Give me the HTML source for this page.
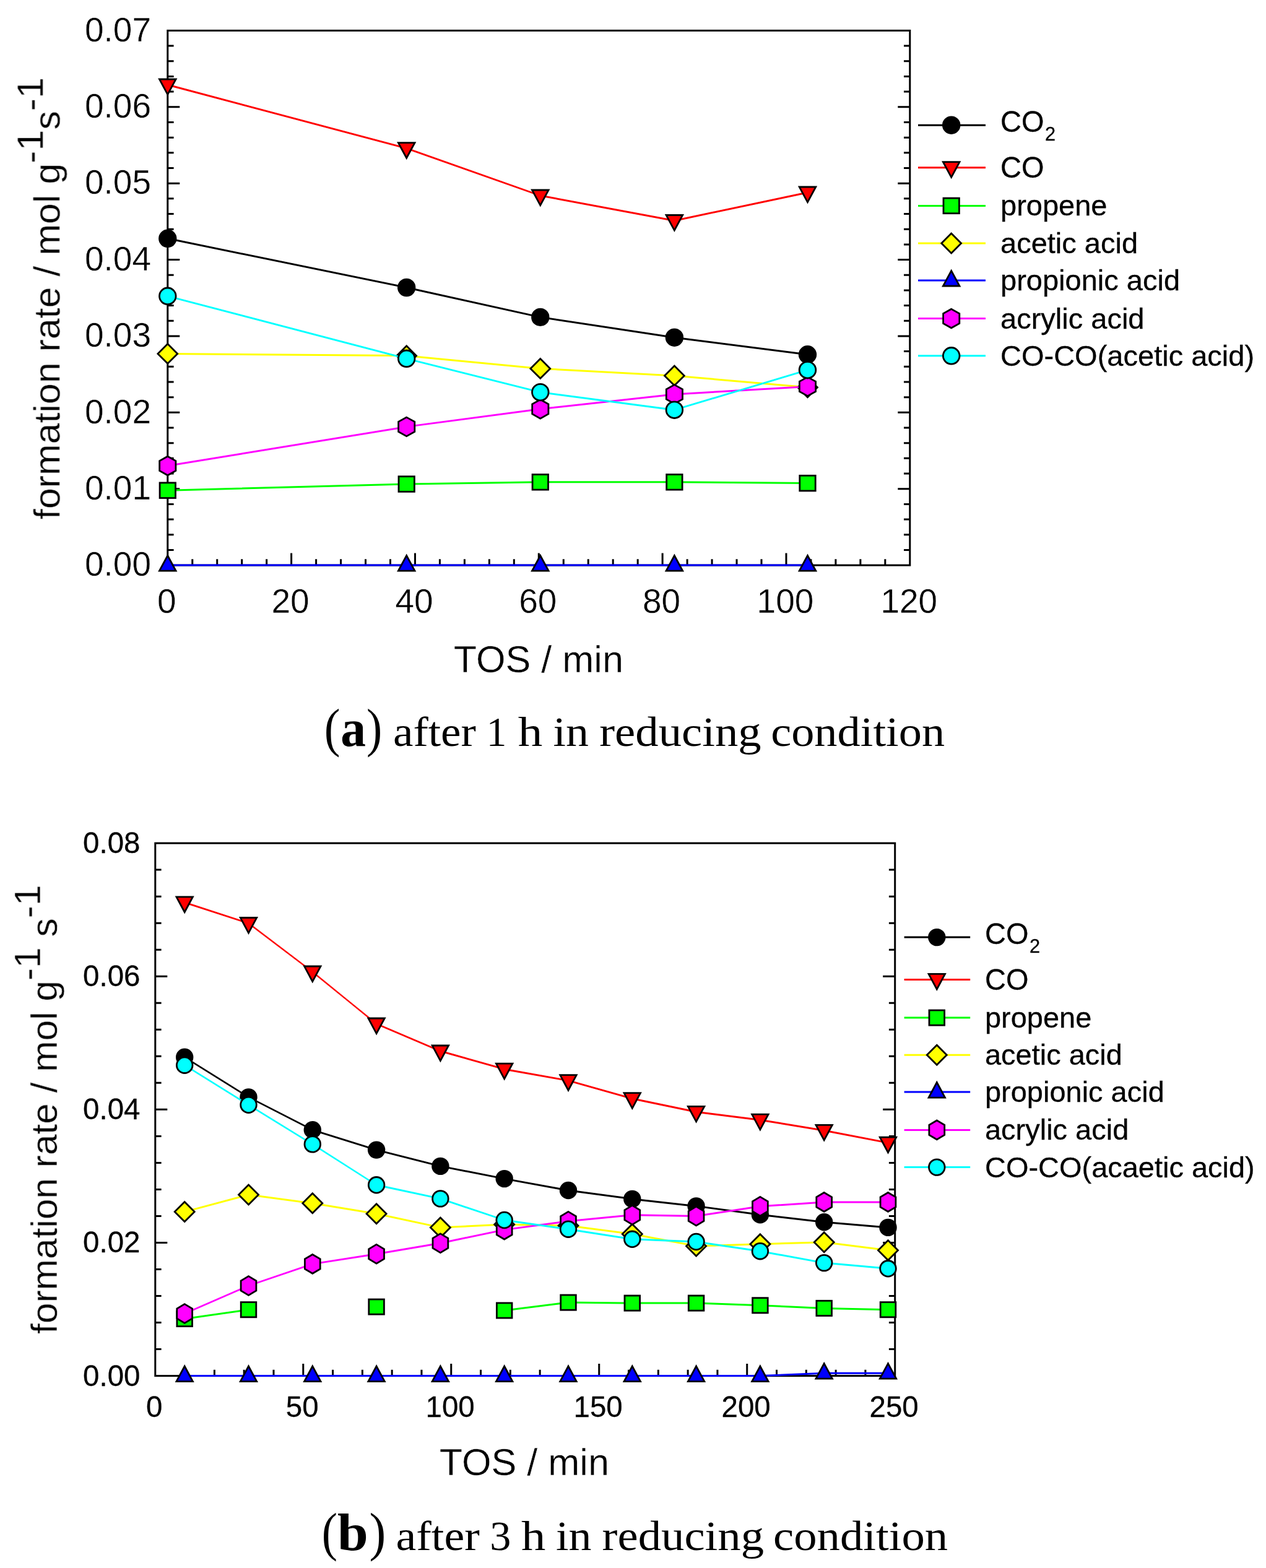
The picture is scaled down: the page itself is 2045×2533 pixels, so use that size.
<!DOCTYPE html>
<html lang="en">
<head>
<meta charset="utf-8">
<title>Formation rate vs TOS</title>
<style>
html,body{margin:0;padding:0;background:#fff;}
body{width:2045px;height:2533px;overflow:hidden;}
svg{display:block;}
text.s{stroke:#fff;stroke-width:0.4px;}
text.b{stroke:#000;stroke-width:0.3px;}
</style>
</head>
<body>
<svg width="2045" height="2533" viewBox="0 0 2045 2533" role="img" aria-label="Formation rate versus time on stream">
<defs><filter id="soft" x="0" y="0" width="2045" height="2533" filterUnits="userSpaceOnUse"><feGaussianBlur stdDeviation="0.5"/></filter></defs>
<rect x="0" y="0" width="2045" height="2533" fill="#ffffff"/>
<g filter="url(#soft)">
<rect x="270.8" y="49.4" width="1199" height="863.7" fill="none" stroke="#000" stroke-width="3"/>
<path d="M270.8 888.42h9.8M1469.8 888.42h-9.8M270.8 863.75h9.8M1469.8 863.75h-9.8M270.8 839.07h9.8M1469.8 839.07h-9.8M270.8 814.39h9.8M1469.8 814.39h-9.8M270.8 789.71h19.5M1469.8 789.71h-19.5M270.8 765.04h9.8M1469.8 765.04h-9.8M270.8 740.36h9.8M1469.8 740.36h-9.8M270.8 715.68h9.8M1469.8 715.68h-9.8M270.8 691.01h9.8M1469.8 691.01h-9.8M270.8 666.33h19.5M1469.8 666.33h-19.5M270.8 641.65h9.8M1469.8 641.65h-9.8M270.8 616.97h9.8M1469.8 616.97h-9.8M270.8 592.3h9.8M1469.8 592.3h-9.8M270.8 567.62h9.8M1469.8 567.62h-9.8M270.8 542.94h19.5M1469.8 542.94h-19.5M270.8 518.27h9.8M1469.8 518.27h-9.8M270.8 493.59h9.8M1469.8 493.59h-9.8M270.8 468.91h9.8M1469.8 468.91h-9.8M270.8 444.23h9.8M1469.8 444.23h-9.8M270.8 419.56h19.5M1469.8 419.56h-19.5M270.8 394.88h9.8M1469.8 394.88h-9.8M270.8 370.2h9.8M1469.8 370.2h-9.8M270.8 345.53h9.8M1469.8 345.53h-9.8M270.8 320.85h9.8M1469.8 320.85h-9.8M270.8 296.17h19.5M1469.8 296.17h-19.5M270.8 271.49h9.8M1469.8 271.49h-9.8M270.8 246.82h9.8M1469.8 246.82h-9.8M270.8 222.14h9.8M1469.8 222.14h-9.8M270.8 197.46h9.8M1469.8 197.46h-9.8M270.8 172.79h19.5M1469.8 172.79h-19.5M270.8 148.11h9.8M1469.8 148.11h-9.8M270.8 123.43h9.8M1469.8 123.43h-9.8M270.8 98.75h9.8M1469.8 98.75h-9.8M270.8 74.08h9.8M1469.8 74.08h-9.8M310.77 913.1v-9.8M350.73 913.1v-9.8M390.7 913.1v-9.8M430.67 913.1v-9.8M470.63 913.1v-19.5M510.6 913.1v-9.8M550.57 913.1v-9.8M590.53 913.1v-9.8M630.5 913.1v-9.8M670.47 913.1v-19.5M710.43 913.1v-9.8M750.4 913.1v-9.8M790.37 913.1v-9.8M830.33 913.1v-9.8M870.3 913.1v-19.5M910.27 913.1v-9.8M950.23 913.1v-9.8M990.2 913.1v-9.8M1030.17 913.1v-9.8M1070.13 913.1v-19.5M1110.1 913.1v-9.8M1150.07 913.1v-9.8M1190.03 913.1v-9.8M1230 913.1v-9.8M1269.97 913.1v-19.5M1309.93 913.1v-9.8M1349.9 913.1v-9.8M1389.87 913.1v-9.8M1429.83 913.1v-9.8" fill="none" stroke="#000" stroke-width="3"/>
<text class="s" x="244" y="930.4" font-family='"Liberation Sans", Arial, Helvetica, sans-serif' font-size="55" text-anchor="end">0.00</text>
<text class="s" x="244" y="807.01" font-family='"Liberation Sans", Arial, Helvetica, sans-serif' font-size="55" text-anchor="end">0.01</text>
<text class="s" x="244" y="683.63" font-family='"Liberation Sans", Arial, Helvetica, sans-serif' font-size="55" text-anchor="end">0.02</text>
<text class="s" x="244" y="560.24" font-family='"Liberation Sans", Arial, Helvetica, sans-serif' font-size="55" text-anchor="end">0.03</text>
<text class="s" x="244" y="436.86" font-family='"Liberation Sans", Arial, Helvetica, sans-serif' font-size="55" text-anchor="end">0.04</text>
<text class="s" x="244" y="313.47" font-family='"Liberation Sans", Arial, Helvetica, sans-serif' font-size="55" text-anchor="end">0.05</text>
<text class="s" x="244" y="190.09" font-family='"Liberation Sans", Arial, Helvetica, sans-serif' font-size="55" text-anchor="end">0.06</text>
<text class="s" x="244" y="66.7" font-family='"Liberation Sans", Arial, Helvetica, sans-serif' font-size="55" text-anchor="end">0.07</text>
<text class="s" x="269.3" y="989.5" font-family='"Liberation Sans", Arial, Helvetica, sans-serif' font-size="55" text-anchor="middle">0</text>
<text class="s" x="469.13" y="989.5" font-family='"Liberation Sans", Arial, Helvetica, sans-serif' font-size="55" text-anchor="middle">20</text>
<text class="s" x="668.97" y="989.5" font-family='"Liberation Sans", Arial, Helvetica, sans-serif' font-size="55" text-anchor="middle">40</text>
<text class="s" x="868.8" y="989.5" font-family='"Liberation Sans", Arial, Helvetica, sans-serif' font-size="55" text-anchor="middle">60</text>
<text class="s" x="1068.63" y="989.5" font-family='"Liberation Sans", Arial, Helvetica, sans-serif' font-size="55" text-anchor="middle">80</text>
<text class="s" x="1268.47" y="989.5" font-family='"Liberation Sans", Arial, Helvetica, sans-serif' font-size="55" text-anchor="middle">100</text>
<text class="s" x="1468.3" y="989.5" font-family='"Liberation Sans", Arial, Helvetica, sans-serif' font-size="55" text-anchor="middle">120</text>
<text class="s" transform="translate(869.8 1086) scale(1.0200 1.0200)" font-family='"Liberation Sans", Arial, Helvetica, sans-serif' font-size="60" text-anchor="middle">TOS / min</text>
<text class="s" transform="translate(96.4 839.1) rotate(-90) scale(1.015 1)" font-family='"Liberation Sans", Arial, Helvetica, sans-serif' font-size="60" text-anchor="start">formation rate / mol g<tspan dy="-27.5">-1</tspan><tspan dy="27.5">s</tspan><tspan dy="-27.5">-1</tspan></text>
<path d="M270.8 385.3L656.7 464.5" fill="none" stroke="#000000" stroke-width="2.94" stroke-linecap="butt"/><path d="M656.7 464.5L872.8 512.4" fill="none" stroke="#000000" stroke-width="2.93" stroke-linecap="butt"/><path d="M872.8 512.4L1089.4 545.2" fill="none" stroke="#000000" stroke-width="2.97" stroke-linecap="butt"/><path d="M1089.4 545.2L1304.5 572.8" fill="none" stroke="#000000" stroke-width="2.98" stroke-linecap="butt"/>
<circle cx="270.8" cy="385.3" r="13.3" fill="#000000" stroke="#000" stroke-width="2.8" stroke-linejoin="miter"/>
<circle cx="656.7" cy="464.5" r="13.3" fill="#000000" stroke="#000" stroke-width="2.8" stroke-linejoin="miter"/>
<circle cx="872.8" cy="512.4" r="13.3" fill="#000000" stroke="#000" stroke-width="2.8" stroke-linejoin="miter"/>
<circle cx="1089.4" cy="545.2" r="13.3" fill="#000000" stroke="#000" stroke-width="2.8" stroke-linejoin="miter"/>
<circle cx="1304.5" cy="572.8" r="13.3" fill="#000000" stroke="#000" stroke-width="2.8" stroke-linejoin="miter"/>
<path d="M270.8 137L656.7 239.6" fill="none" stroke="#ff0000" stroke-width="2.9" stroke-linecap="butt"/><path d="M656.7 239.6L872.8 316" fill="none" stroke="#ff0000" stroke-width="2.83" stroke-linecap="butt"/><path d="M872.8 316L1089.4 356.5" fill="none" stroke="#ff0000" stroke-width="2.95" stroke-linecap="butt"/><path d="M1089.4 356.5L1304.5 311" fill="none" stroke="#ff0000" stroke-width="2.94" stroke-linecap="butt"/>
<polygon points="257.5,128 284.1,128 270.8,152.6" fill="#ff0000" stroke="#000" stroke-width="2.8" stroke-linejoin="miter"/>
<polygon points="643.4,230.6 670,230.6 656.7,255.2" fill="#ff0000" stroke="#000" stroke-width="2.8" stroke-linejoin="miter"/>
<polygon points="859.5,307 886.1,307 872.8,331.6" fill="#ff0000" stroke="#000" stroke-width="2.8" stroke-linejoin="miter"/>
<polygon points="1076.1,347.5 1102.7,347.5 1089.4,372.1" fill="#ff0000" stroke="#000" stroke-width="2.8" stroke-linejoin="miter"/>
<polygon points="1291.2,302 1317.8,302 1304.5,326.6" fill="#ff0000" stroke="#000" stroke-width="2.8" stroke-linejoin="miter"/>
<path d="M270.8 792.2L656.7 782M656.7 782L872.8 778.8M872.8 778.8L1089.4 778.8M1089.4 778.8L1304.5 780.6" fill="none" stroke="#00ff00" stroke-width="3" stroke-linecap="butt"/>
<rect x="258.1" y="779.9" width="25.4" height="24.6" fill="#00ff00" stroke="#000" stroke-width="2.8" stroke-linejoin="miter"/>
<rect x="644" y="769.7" width="25.4" height="24.6" fill="#00ff00" stroke="#000" stroke-width="2.8" stroke-linejoin="miter"/>
<rect x="860.1" y="766.5" width="25.4" height="24.6" fill="#00ff00" stroke="#000" stroke-width="2.8" stroke-linejoin="miter"/>
<rect x="1076.7" y="766.5" width="25.4" height="24.6" fill="#00ff00" stroke="#000" stroke-width="2.8" stroke-linejoin="miter"/>
<rect x="1291.8" y="768.3" width="25.4" height="24.6" fill="#00ff00" stroke="#000" stroke-width="2.8" stroke-linejoin="miter"/>
<path d="M270.8 571.4L656.7 574.7M872.8 595.4L1089.4 606.9" fill="none" stroke="#ffff00" stroke-width="3" stroke-linecap="butt"/><path d="M656.7 574.7L872.8 595.4M1089.4 606.9L1304.5 625.8" fill="none" stroke="#ffff00" stroke-width="2.99" stroke-linecap="butt"/>
<polygon points="270.8,555.5 286.7,571.4 270.8,587.3 254.9,571.4" fill="#ffff00" stroke="#000" stroke-width="2.8" stroke-linejoin="miter"/>
<polygon points="656.7,558.8 672.6,574.7 656.7,590.6 640.8,574.7" fill="#ffff00" stroke="#000" stroke-width="2.8" stroke-linejoin="miter"/>
<polygon points="872.8,579.5 888.7,595.4 872.8,611.3 856.9,595.4" fill="#ffff00" stroke="#000" stroke-width="2.8" stroke-linejoin="miter"/>
<polygon points="1089.4,591 1105.3,606.9 1089.4,622.8 1073.5,606.9" fill="#ffff00" stroke="#000" stroke-width="2.8" stroke-linejoin="miter"/>
<polygon points="1304.5,609.9 1320.4,625.8 1304.5,641.7 1288.6,625.8" fill="#ffff00" stroke="#000" stroke-width="2.8" stroke-linejoin="miter"/>
<path d="M270.8 913.1L656.7 913.1M656.7 913.1L872.8 913.1M872.8 913.1L1089.4 913.1M1089.4 913.1L1304.5 913.1" fill="none" stroke="#0000ff" stroke-width="3" stroke-linecap="butt"/>
<polygon points="257.5,922.1 284.1,922.1 270.8,897.5" fill="#0000ff" stroke="#000" stroke-width="2.8" stroke-linejoin="miter"/>
<polygon points="643.4,922.1 670,922.1 656.7,897.5" fill="#0000ff" stroke="#000" stroke-width="2.8" stroke-linejoin="miter"/>
<polygon points="859.5,922.1 886.1,922.1 872.8,897.5" fill="#0000ff" stroke="#000" stroke-width="2.8" stroke-linejoin="miter"/>
<polygon points="1076.1,922.1 1102.7,922.1 1089.4,897.5" fill="#0000ff" stroke="#000" stroke-width="2.8" stroke-linejoin="miter"/>
<polygon points="1291.2,922.1 1317.8,922.1 1304.5,897.5" fill="#0000ff" stroke="#000" stroke-width="2.8" stroke-linejoin="miter"/>
<path d="M270.8 752.5L656.7 689.4" fill="none" stroke="#ff00ff" stroke-width="2.96" stroke-linecap="butt"/><path d="M656.7 689.4L872.8 660.8" fill="none" stroke="#ff00ff" stroke-width="2.97" stroke-linecap="butt"/><path d="M872.8 660.8L1089.4 636.9" fill="none" stroke="#ff00ff" stroke-width="2.98" stroke-linecap="butt"/><path d="M1089.4 636.9L1304.5 624.4" fill="none" stroke="#ff00ff" stroke-width="2.99" stroke-linecap="butt"/>
<polygon points="270.8,737.2 283.9,744.5 283.9,760.5 270.8,767.8 257.7,760.5 257.7,744.5" fill="#ff00ff" stroke="#000" stroke-width="2.8" stroke-linejoin="miter"/>
<polygon points="656.7,674.1 669.8,681.4 669.8,697.4 656.7,704.7 643.6,697.4 643.6,681.4" fill="#ff00ff" stroke="#000" stroke-width="2.8" stroke-linejoin="miter"/>
<polygon points="872.8,645.5 885.9,652.8 885.9,668.8 872.8,676.1 859.7,668.8 859.7,652.8" fill="#ff00ff" stroke="#000" stroke-width="2.8" stroke-linejoin="miter"/>
<polygon points="1089.4,621.6 1102.5,628.9 1102.5,644.9 1089.4,652.2 1076.3,644.9 1076.3,628.9" fill="#ff00ff" stroke="#000" stroke-width="2.8" stroke-linejoin="miter"/>
<polygon points="1304.5,609.1 1317.6,616.4 1317.6,632.4 1304.5,639.7 1291.4,632.4 1291.4,616.4" fill="#ff00ff" stroke="#000" stroke-width="2.8" stroke-linejoin="miter"/>
<path d="M270.8 478.3L656.7 579.3" fill="none" stroke="#00ffff" stroke-width="2.9" stroke-linecap="butt"/><path d="M656.7 579.3L872.8 633.6" fill="none" stroke="#00ffff" stroke-width="2.91" stroke-linecap="butt"/><path d="M872.8 633.6L1089.4 662.2" fill="none" stroke="#00ffff" stroke-width="2.97" stroke-linecap="butt"/><path d="M1089.4 662.2L1304.5 597.7" fill="none" stroke="#00ffff" stroke-width="2.87" stroke-linecap="butt"/>
<circle cx="270.8" cy="478.3" r="13.3" fill="#00ffff" stroke="#000" stroke-width="2.8" stroke-linejoin="miter"/>
<circle cx="656.7" cy="579.3" r="13.3" fill="#00ffff" stroke="#000" stroke-width="2.8" stroke-linejoin="miter"/>
<circle cx="872.8" cy="633.6" r="13.3" fill="#00ffff" stroke="#000" stroke-width="2.8" stroke-linejoin="miter"/>
<circle cx="1089.4" cy="662.2" r="13.3" fill="#00ffff" stroke="#000" stroke-width="2.8" stroke-linejoin="miter"/>
<circle cx="1304.5" cy="597.7" r="13.3" fill="#00ffff" stroke="#000" stroke-width="2.8" stroke-linejoin="miter"/>
<line x1="1483" y1="202.2" x2="1592" y2="202.2" stroke="#000000" stroke-width="3"/>
<circle cx="1536.7" cy="202.2" r="13.3" fill="#000000" stroke="#000" stroke-width="2.8" stroke-linejoin="miter"/>
<text class="b" transform="translate(1616 212.8) scale(0.9900 1.0100)" font-family='"Liberation Sans", Arial, Helvetica, sans-serif' font-size="47.5" text-anchor="start">CO<tspan dx="1.5" dy="14" font-size="31">2</tspan></text>
<line x1="1483" y1="270.7" x2="1592" y2="270.7" stroke="#ff0000" stroke-width="3"/>
<polygon points="1523.4,261.7 1550,261.7 1536.7,286.3" fill="#ff0000" stroke="#000" stroke-width="2.8" stroke-linejoin="miter"/>
<text class="b" transform="translate(1616 286.6) scale(0.9900 1.0100)" font-family='"Liberation Sans", Arial, Helvetica, sans-serif' font-size="47.5" text-anchor="start">CO</text>
<line x1="1483" y1="332.4" x2="1592" y2="332.4" stroke="#00ff00" stroke-width="3"/>
<rect x="1524" y="320.1" width="25.4" height="24.6" fill="#00ff00" stroke="#000" stroke-width="2.8" stroke-linejoin="miter"/>
<text class="b" transform="translate(1616 348.4) scale(0.9900 0.9600)" font-family='"Liberation Sans", Arial, Helvetica, sans-serif' font-size="47.5" text-anchor="start">propene</text>
<line x1="1483" y1="393" x2="1592" y2="393" stroke="#ffff00" stroke-width="3"/>
<polygon points="1536.7,377.1 1552.6,393 1536.7,408.9 1520.8,393" fill="#ffff00" stroke="#000" stroke-width="2.8" stroke-linejoin="miter"/>
<text class="b" transform="translate(1616 409) scale(0.9900 0.9600)" font-family='"Liberation Sans", Arial, Helvetica, sans-serif' font-size="47.5" text-anchor="start">acetic acid</text>
<line x1="1483" y1="453" x2="1592" y2="453" stroke="#0000ff" stroke-width="3"/>
<polygon points="1523.4,462 1550,462 1536.7,437.4" fill="#0000ff" stroke="#000" stroke-width="2.8" stroke-linejoin="miter"/>
<text class="b" transform="translate(1616 469) scale(0.9900 0.9600)" font-family='"Liberation Sans", Arial, Helvetica, sans-serif' font-size="47.5" text-anchor="start">propionic acid</text>
<line x1="1483" y1="514.5" x2="1592" y2="514.5" stroke="#ff00ff" stroke-width="3"/>
<polygon points="1536.7,499.2 1549.8,506.5 1549.8,522.5 1536.7,529.8 1523.6,522.5 1523.6,506.5" fill="#ff00ff" stroke="#000" stroke-width="2.8" stroke-linejoin="miter"/>
<text class="b" transform="translate(1616 530.5) scale(0.9900 0.9600)" font-family='"Liberation Sans", Arial, Helvetica, sans-serif' font-size="47.5" text-anchor="start">acrylic acid</text>
<line x1="1483" y1="574.8" x2="1592" y2="574.8" stroke="#00ffff" stroke-width="3"/>
<circle cx="1536.7" cy="574.8" r="13.3" fill="#00ffff" stroke="#000" stroke-width="2.8" stroke-linejoin="miter"/>
<text class="b" transform="translate(1616 590.8) scale(0.9900 0.9850)" font-family='"Liberation Sans", Arial, Helvetica, sans-serif' font-size="47.5" text-anchor="start">CO-CO(acetic acid)</text>
<rect x="250.8" y="1362.1" width="1194.9" height="860.5" fill="none" stroke="#000" stroke-width="3"/>
<path d="M250.8 2179.57h9.8M1445.7 2179.57h-9.8M250.8 2136.55h9.8M1445.7 2136.55h-9.8M250.8 2093.53h9.8M1445.7 2093.53h-9.8M250.8 2050.5h9.8M1445.7 2050.5h-9.8M250.8 2007.47h19.5M1445.7 2007.47h-19.5M250.8 1964.45h9.8M1445.7 1964.45h-9.8M250.8 1921.42h9.8M1445.7 1921.42h-9.8M250.8 1878.4h9.8M1445.7 1878.4h-9.8M250.8 1835.38h9.8M1445.7 1835.38h-9.8M250.8 1792.35h19.5M1445.7 1792.35h-19.5M250.8 1749.32h9.8M1445.7 1749.32h-9.8M250.8 1706.3h9.8M1445.7 1706.3h-9.8M250.8 1663.27h9.8M1445.7 1663.27h-9.8M250.8 1620.25h9.8M1445.7 1620.25h-9.8M250.8 1577.22h19.5M1445.7 1577.22h-19.5M250.8 1534.2h9.8M1445.7 1534.2h-9.8M250.8 1491.17h9.8M1445.7 1491.17h-9.8M250.8 1448.15h9.8M1445.7 1448.15h-9.8M250.8 1405.12h9.8M1445.7 1405.12h-9.8M298.6 2222.6v-9.8M346.39 2222.6v-9.8M394.19 2222.6v-9.8M441.98 2222.6v-9.8M489.78 2222.6v-19.5M537.58 2222.6v-9.8M585.37 2222.6v-9.8M633.17 2222.6v-9.8M680.96 2222.6v-9.8M728.76 2222.6v-19.5M776.56 2222.6v-9.8M824.35 2222.6v-9.8M872.15 2222.6v-9.8M919.94 2222.6v-9.8M967.74 2222.6v-19.5M1015.54 2222.6v-9.8M1063.33 2222.6v-9.8M1111.13 2222.6v-9.8M1158.92 2222.6v-9.8M1206.72 2222.6v-19.5M1254.52 2222.6v-9.8M1302.31 2222.6v-9.8M1350.11 2222.6v-9.8M1397.9 2222.6v-9.8" fill="none" stroke="#000" stroke-width="3"/>
<text class="b" transform="translate(226.5 2238.6) scale(1.0000 1.0050)" font-family='"Liberation Sans", Arial, Helvetica, sans-serif' font-size="47.5" text-anchor="end">0.00</text>
<text class="b" transform="translate(226.5 2023.47) scale(1.0000 1.0050)" font-family='"Liberation Sans", Arial, Helvetica, sans-serif' font-size="47.5" text-anchor="end">0.02</text>
<text class="b" transform="translate(226.5 1808.35) scale(1.0000 1.0050)" font-family='"Liberation Sans", Arial, Helvetica, sans-serif' font-size="47.5" text-anchor="end">0.04</text>
<text class="b" transform="translate(226.5 1593.22) scale(1.0000 1.0050)" font-family='"Liberation Sans", Arial, Helvetica, sans-serif' font-size="47.5" text-anchor="end">0.06</text>
<text class="b" transform="translate(226.5 1378.1) scale(1.0000 1.0050)" font-family='"Liberation Sans", Arial, Helvetica, sans-serif' font-size="47.5" text-anchor="end">0.08</text>
<text class="b" transform="translate(249.2 2288.5) scale(1.0000 1.0050)" font-family='"Liberation Sans", Arial, Helvetica, sans-serif' font-size="47.5" text-anchor="middle">0</text>
<text class="b" transform="translate(488.18 2288.5) scale(1.0000 1.0050)" font-family='"Liberation Sans", Arial, Helvetica, sans-serif' font-size="47.5" text-anchor="middle">50</text>
<text class="b" transform="translate(727.16 2288.5) scale(1.0000 1.0050)" font-family='"Liberation Sans", Arial, Helvetica, sans-serif' font-size="47.5" text-anchor="middle">100</text>
<text class="b" transform="translate(966.14 2288.5) scale(1.0000 1.0050)" font-family='"Liberation Sans", Arial, Helvetica, sans-serif' font-size="47.5" text-anchor="middle">150</text>
<text class="b" transform="translate(1205.12 2288.5) scale(1.0000 1.0050)" font-family='"Liberation Sans", Arial, Helvetica, sans-serif' font-size="47.5" text-anchor="middle">200</text>
<text class="b" transform="translate(1444.1 2288.5) scale(1.0000 1.0050)" font-family='"Liberation Sans", Arial, Helvetica, sans-serif' font-size="47.5" text-anchor="middle">250</text>
<text class="s" transform="translate(846.8 2383.5) scale(1.0200 1.0200)" font-family='"Liberation Sans", Arial, Helvetica, sans-serif' font-size="60" text-anchor="middle">TOS / min</text>
<text class="s" transform="translate(91.9 2154.8) rotate(-90) scale(1.007 1)" font-family='"Liberation Sans", Arial, Helvetica, sans-serif' font-size="60" text-anchor="start">formation rate / mol g<tspan dy="-27.5">-1</tspan><tspan dy="27.5"> s</tspan><tspan dy="-27.5">-1</tspan></text>
<path d="M298.2 1707.8L401.5 1772.4" fill="none" stroke="#000000" stroke-width="2.54" stroke-linecap="butt"/><path d="M401.5 1772.4L504.8 1825.3" fill="none" stroke="#000000" stroke-width="2.67" stroke-linecap="butt"/><path d="M504.8 1825.3L608.1 1857.6" fill="none" stroke="#000000" stroke-width="2.86" stroke-linecap="butt"/><path d="M608.1 1857.6L711.4 1883.9" fill="none" stroke="#000000" stroke-width="2.91" stroke-linecap="butt"/><path d="M711.4 1883.9L814.7 1904.1" fill="none" stroke="#000000" stroke-width="2.94" stroke-linecap="butt"/><path d="M814.7 1904.1L918 1923" fill="none" stroke="#000000" stroke-width="2.95" stroke-linecap="butt"/><path d="M918 1923L1021.3 1936.9M1124.6 1948.4L1227.9 1962.2" fill="none" stroke="#000000" stroke-width="2.97" stroke-linecap="butt"/><path d="M1021.3 1936.9L1124.6 1948.4M1227.9 1962.2L1331.2 1974.2" fill="none" stroke="#000000" stroke-width="2.98" stroke-linecap="butt"/><path d="M1331.2 1974.2L1434.5 1982.9" fill="none" stroke="#000000" stroke-width="2.99" stroke-linecap="butt"/>
<circle cx="298.2" cy="1707.8" r="12.8" fill="#000000" stroke="#000" stroke-width="2.8" stroke-linejoin="miter"/>
<circle cx="401.5" cy="1772.4" r="12.8" fill="#000000" stroke="#000" stroke-width="2.8" stroke-linejoin="miter"/>
<circle cx="504.8" cy="1825.3" r="12.8" fill="#000000" stroke="#000" stroke-width="2.8" stroke-linejoin="miter"/>
<circle cx="608.1" cy="1857.6" r="12.8" fill="#000000" stroke="#000" stroke-width="2.8" stroke-linejoin="miter"/>
<circle cx="711.4" cy="1883.9" r="12.8" fill="#000000" stroke="#000" stroke-width="2.8" stroke-linejoin="miter"/>
<circle cx="814.7" cy="1904.1" r="12.8" fill="#000000" stroke="#000" stroke-width="2.8" stroke-linejoin="miter"/>
<circle cx="918" cy="1923" r="12.8" fill="#000000" stroke="#000" stroke-width="2.8" stroke-linejoin="miter"/>
<circle cx="1021.3" cy="1936.9" r="12.8" fill="#000000" stroke="#000" stroke-width="2.8" stroke-linejoin="miter"/>
<circle cx="1124.6" cy="1948.4" r="12.8" fill="#000000" stroke="#000" stroke-width="2.8" stroke-linejoin="miter"/>
<circle cx="1227.9" cy="1962.2" r="12.8" fill="#000000" stroke="#000" stroke-width="2.8" stroke-linejoin="miter"/>
<circle cx="1331.2" cy="1974.2" r="12.8" fill="#000000" stroke="#000" stroke-width="2.8" stroke-linejoin="miter"/>
<circle cx="1434.5" cy="1982.9" r="12.8" fill="#000000" stroke="#000" stroke-width="2.8" stroke-linejoin="miter"/>
<path d="M298.2 1457.9L401.5 1491.5" fill="none" stroke="#ff0000" stroke-width="2.85" stroke-linecap="butt"/><path d="M401.5 1491.5L504.8 1570" fill="none" stroke="#ff0000" stroke-width="2.39" stroke-linecap="butt"/><path d="M504.8 1570L608.1 1654" fill="none" stroke="#ff0000" stroke-width="2.33" stroke-linecap="butt"/><path d="M608.1 1654L711.4 1698" fill="none" stroke="#ff0000" stroke-width="2.76" stroke-linecap="butt"/><path d="M711.4 1698L814.7 1727.2M918 1745.6L1021.3 1774.7" fill="none" stroke="#ff0000" stroke-width="2.89" stroke-linecap="butt"/><path d="M814.7 1727.2L918 1745.6M1331.2 1826.3L1434.5 1846.1" fill="none" stroke="#ff0000" stroke-width="2.95" stroke-linecap="butt"/><path d="M1021.3 1774.7L1124.6 1796.3" fill="none" stroke="#ff0000" stroke-width="2.94" stroke-linecap="butt"/><path d="M1124.6 1796.3L1227.9 1809.2" fill="none" stroke="#ff0000" stroke-width="2.98" stroke-linecap="butt"/><path d="M1227.9 1809.2L1331.2 1826.3" fill="none" stroke="#ff0000" stroke-width="2.96" stroke-linecap="butt"/>
<polygon points="285,1448.9 311.4,1448.9 298.2,1473.5" fill="#ff0000" stroke="#000" stroke-width="2.8" stroke-linejoin="miter"/>
<polygon points="388.3,1482.5 414.7,1482.5 401.5,1507.1" fill="#ff0000" stroke="#000" stroke-width="2.8" stroke-linejoin="miter"/>
<polygon points="491.6,1561 518,1561 504.8,1585.6" fill="#ff0000" stroke="#000" stroke-width="2.8" stroke-linejoin="miter"/>
<polygon points="594.9,1645 621.3,1645 608.1,1669.6" fill="#ff0000" stroke="#000" stroke-width="2.8" stroke-linejoin="miter"/>
<polygon points="698.2,1689 724.6,1689 711.4,1713.6" fill="#ff0000" stroke="#000" stroke-width="2.8" stroke-linejoin="miter"/>
<polygon points="801.5,1718.2 827.9,1718.2 814.7,1742.8" fill="#ff0000" stroke="#000" stroke-width="2.8" stroke-linejoin="miter"/>
<polygon points="904.8,1736.6 931.2,1736.6 918,1761.2" fill="#ff0000" stroke="#000" stroke-width="2.8" stroke-linejoin="miter"/>
<polygon points="1008.1,1765.7 1034.5,1765.7 1021.3,1790.3" fill="#ff0000" stroke="#000" stroke-width="2.8" stroke-linejoin="miter"/>
<polygon points="1111.4,1787.3 1137.8,1787.3 1124.6,1811.9" fill="#ff0000" stroke="#000" stroke-width="2.8" stroke-linejoin="miter"/>
<polygon points="1214.7,1800.2 1241.1,1800.2 1227.9,1824.8" fill="#ff0000" stroke="#000" stroke-width="2.8" stroke-linejoin="miter"/>
<polygon points="1318,1817.3 1344.4,1817.3 1331.2,1841.9" fill="#ff0000" stroke="#000" stroke-width="2.8" stroke-linejoin="miter"/>
<polygon points="1421.3,1837.1 1447.7,1837.1 1434.5,1861.7" fill="#ff0000" stroke="#000" stroke-width="2.8" stroke-linejoin="miter"/>
<path d="M298.2 2130.5L401.5 2115.7" fill="none" stroke="#00ff00" stroke-width="2.97" stroke-linecap="butt"/>
<path d="M814.7 2117L918 2104.1" fill="none" stroke="#00ff00" stroke-width="2.98" stroke-linecap="butt"/><path d="M918 2104.1L1021.3 2105.1M1021.3 2105.1L1124.6 2105.1M1124.6 2105.1L1227.9 2108.8M1227.9 2108.8L1331.2 2113.4M1331.2 2113.4L1434.5 2115.7" fill="none" stroke="#00ff00" stroke-width="3" stroke-linecap="butt"/>
<rect x="285.9" y="2118.4" width="24.6" height="24.2" fill="#00ff00" stroke="#000" stroke-width="2.8" stroke-linejoin="miter"/>
<rect x="389.2" y="2103.6" width="24.6" height="24.2" fill="#00ff00" stroke="#000" stroke-width="2.8" stroke-linejoin="miter"/>
<rect x="595.8" y="2099" width="24.6" height="24.2" fill="#00ff00" stroke="#000" stroke-width="2.8" stroke-linejoin="miter"/>
<rect x="802.4" y="2104.9" width="24.6" height="24.2" fill="#00ff00" stroke="#000" stroke-width="2.8" stroke-linejoin="miter"/>
<rect x="905.7" y="2092" width="24.6" height="24.2" fill="#00ff00" stroke="#000" stroke-width="2.8" stroke-linejoin="miter"/>
<rect x="1009" y="2093" width="24.6" height="24.2" fill="#00ff00" stroke="#000" stroke-width="2.8" stroke-linejoin="miter"/>
<rect x="1112.3" y="2093" width="24.6" height="24.2" fill="#00ff00" stroke="#000" stroke-width="2.8" stroke-linejoin="miter"/>
<rect x="1215.6" y="2096.7" width="24.6" height="24.2" fill="#00ff00" stroke="#000" stroke-width="2.8" stroke-linejoin="miter"/>
<rect x="1318.9" y="2101.3" width="24.6" height="24.2" fill="#00ff00" stroke="#000" stroke-width="2.8" stroke-linejoin="miter"/>
<rect x="1422.2" y="2103.6" width="24.6" height="24.2" fill="#00ff00" stroke="#000" stroke-width="2.8" stroke-linejoin="miter"/>
<path d="M298.2 1957.6L401.5 1930" fill="none" stroke="#ffff00" stroke-width="2.9" stroke-linecap="butt"/><path d="M401.5 1930L504.8 1943.8M918 1980L1021.3 1993.5" fill="none" stroke="#ffff00" stroke-width="2.97" stroke-linecap="butt"/><path d="M504.8 1943.8L608.1 1960.8" fill="none" stroke="#ffff00" stroke-width="2.96" stroke-linecap="butt"/><path d="M608.1 1960.8L711.4 1982.9" fill="none" stroke="#ffff00" stroke-width="2.93" stroke-linecap="butt"/><path d="M711.4 1982.9L814.7 1978M814.7 1978L918 1980M1124.6 2012.9L1227.9 2009.7M1227.9 2009.7L1331.2 2006.8" fill="none" stroke="#ffff00" stroke-width="3" stroke-linecap="butt"/><path d="M1021.3 1993.5L1124.6 2012.9" fill="none" stroke="#ffff00" stroke-width="2.95" stroke-linecap="butt"/><path d="M1331.2 2006.8L1434.5 2019.8" fill="none" stroke="#ffff00" stroke-width="2.98" stroke-linecap="butt"/>
<polygon points="298.2,1941.6 314.2,1957.6 298.2,1973.6 282.2,1957.6" fill="#ffff00" stroke="#000" stroke-width="2.8" stroke-linejoin="miter"/>
<polygon points="401.5,1914 417.5,1930 401.5,1946 385.5,1930" fill="#ffff00" stroke="#000" stroke-width="2.8" stroke-linejoin="miter"/>
<polygon points="504.8,1927.8 520.8,1943.8 504.8,1959.8 488.8,1943.8" fill="#ffff00" stroke="#000" stroke-width="2.8" stroke-linejoin="miter"/>
<polygon points="608.1,1944.8 624.1,1960.8 608.1,1976.8 592.1,1960.8" fill="#ffff00" stroke="#000" stroke-width="2.8" stroke-linejoin="miter"/>
<polygon points="711.4,1966.9 727.4,1982.9 711.4,1998.9 695.4,1982.9" fill="#ffff00" stroke="#000" stroke-width="2.8" stroke-linejoin="miter"/>
<polygon points="814.7,1962 830.7,1978 814.7,1994 798.7,1978" fill="#ffff00" stroke="#000" stroke-width="2.8" stroke-linejoin="miter"/>
<polygon points="918,1964 934,1980 918,1996 902,1980" fill="#ffff00" stroke="#000" stroke-width="2.8" stroke-linejoin="miter"/>
<polygon points="1021.3,1977.5 1037.3,1993.5 1021.3,2009.5 1005.3,1993.5" fill="#ffff00" stroke="#000" stroke-width="2.8" stroke-linejoin="miter"/>
<polygon points="1124.6,1996.9 1140.6,2012.9 1124.6,2028.9 1108.6,2012.9" fill="#ffff00" stroke="#000" stroke-width="2.8" stroke-linejoin="miter"/>
<polygon points="1227.9,1993.7 1243.9,2009.7 1227.9,2025.7 1211.9,2009.7" fill="#ffff00" stroke="#000" stroke-width="2.8" stroke-linejoin="miter"/>
<polygon points="1331.2,1990.8 1347.2,2006.8 1331.2,2022.8 1315.2,2006.8" fill="#ffff00" stroke="#000" stroke-width="2.8" stroke-linejoin="miter"/>
<polygon points="1434.5,2003.8 1450.5,2019.8 1434.5,2035.8 1418.5,2019.8" fill="#ffff00" stroke="#000" stroke-width="2.8" stroke-linejoin="miter"/>
<path d="M298.2 2222.6L401.5 2222.6M401.5 2222.6L504.8 2222.6M504.8 2222.6L608.1 2222.6M608.1 2222.6L711.4 2222.6M711.4 2222.6L814.7 2222.6M814.7 2222.6L918 2222.6M918 2222.6L1021.3 2222.6M1021.3 2222.6L1124.6 2222.6M1124.6 2222.6L1227.9 2222.6M1227.9 2222.6L1331.2 2218.2M1331.2 2218.2L1434.5 2218.2" fill="none" stroke="#0000ff" stroke-width="3" stroke-linecap="butt"/>
<polygon points="285,2231.6 311.4,2231.6 298.2,2207" fill="#0000ff" stroke="#000" stroke-width="2.8" stroke-linejoin="miter"/>
<polygon points="388.3,2231.6 414.7,2231.6 401.5,2207" fill="#0000ff" stroke="#000" stroke-width="2.8" stroke-linejoin="miter"/>
<polygon points="491.6,2231.6 518,2231.6 504.8,2207" fill="#0000ff" stroke="#000" stroke-width="2.8" stroke-linejoin="miter"/>
<polygon points="594.9,2231.6 621.3,2231.6 608.1,2207" fill="#0000ff" stroke="#000" stroke-width="2.8" stroke-linejoin="miter"/>
<polygon points="698.2,2231.6 724.6,2231.6 711.4,2207" fill="#0000ff" stroke="#000" stroke-width="2.8" stroke-linejoin="miter"/>
<polygon points="801.5,2231.6 827.9,2231.6 814.7,2207" fill="#0000ff" stroke="#000" stroke-width="2.8" stroke-linejoin="miter"/>
<polygon points="904.8,2231.6 931.2,2231.6 918,2207" fill="#0000ff" stroke="#000" stroke-width="2.8" stroke-linejoin="miter"/>
<polygon points="1008.1,2231.6 1034.5,2231.6 1021.3,2207" fill="#0000ff" stroke="#000" stroke-width="2.8" stroke-linejoin="miter"/>
<polygon points="1111.4,2231.6 1137.8,2231.6 1124.6,2207" fill="#0000ff" stroke="#000" stroke-width="2.8" stroke-linejoin="miter"/>
<polygon points="1214.7,2231.6 1241.1,2231.6 1227.9,2207" fill="#0000ff" stroke="#000" stroke-width="2.8" stroke-linejoin="miter"/>
<polygon points="1318,2227.2 1344.4,2227.2 1331.2,2202.6" fill="#0000ff" stroke="#000" stroke-width="2.8" stroke-linejoin="miter"/>
<polygon points="1421.3,2227.2 1447.7,2227.2 1434.5,2202.6" fill="#0000ff" stroke="#000" stroke-width="2.8" stroke-linejoin="miter"/>
<path d="M298.2 2122L401.5 2077" fill="none" stroke="#ff00ff" stroke-width="2.75" stroke-linecap="butt"/><path d="M401.5 2077L504.8 2041.9" fill="none" stroke="#ff00ff" stroke-width="2.84" stroke-linecap="butt"/><path d="M504.8 2041.9L608.1 2025.8M608.1 2025.8L711.4 2008.3" fill="none" stroke="#ff00ff" stroke-width="2.96" stroke-linecap="butt"/><path d="M711.4 2008.3L814.7 1986.6" fill="none" stroke="#ff00ff" stroke-width="2.94" stroke-linecap="butt"/><path d="M814.7 1986.6L918 1972.8M1124.6 1964.5L1227.9 1948.8" fill="none" stroke="#ff00ff" stroke-width="2.97" stroke-linecap="butt"/><path d="M918 1972.8L1021.3 1962.7M1227.9 1948.8L1331.2 1941.9" fill="none" stroke="#ff00ff" stroke-width="2.99" stroke-linecap="butt"/><path d="M1021.3 1962.7L1124.6 1964.5M1331.2 1941.9L1434.5 1941.9" fill="none" stroke="#ff00ff" stroke-width="3" stroke-linecap="butt"/>
<polygon points="298.2,2106.6 310.6,2114 310.6,2130 298.2,2137.4 285.8,2130 285.8,2114" fill="#ff00ff" stroke="#000" stroke-width="2.8" stroke-linejoin="miter"/>
<polygon points="401.5,2061.6 413.9,2069 413.9,2085 401.5,2092.4 389.1,2085 389.1,2069" fill="#ff00ff" stroke="#000" stroke-width="2.8" stroke-linejoin="miter"/>
<polygon points="504.8,2026.5 517.2,2033.9 517.2,2049.9 504.8,2057.3 492.4,2049.9 492.4,2033.9" fill="#ff00ff" stroke="#000" stroke-width="2.8" stroke-linejoin="miter"/>
<polygon points="608.1,2010.4 620.5,2017.8 620.5,2033.8 608.1,2041.2 595.7,2033.8 595.7,2017.8" fill="#ff00ff" stroke="#000" stroke-width="2.8" stroke-linejoin="miter"/>
<polygon points="711.4,1992.9 723.8,2000.3 723.8,2016.3 711.4,2023.7 699,2016.3 699,2000.3" fill="#ff00ff" stroke="#000" stroke-width="2.8" stroke-linejoin="miter"/>
<polygon points="814.7,1971.2 827.1,1978.6 827.1,1994.6 814.7,2002 802.3,1994.6 802.3,1978.6" fill="#ff00ff" stroke="#000" stroke-width="2.8" stroke-linejoin="miter"/>
<polygon points="918,1957.4 930.4,1964.8 930.4,1980.8 918,1988.2 905.6,1980.8 905.6,1964.8" fill="#ff00ff" stroke="#000" stroke-width="2.8" stroke-linejoin="miter"/>
<polygon points="1021.3,1947.3 1033.7,1954.7 1033.7,1970.7 1021.3,1978.1 1008.9,1970.7 1008.9,1954.7" fill="#ff00ff" stroke="#000" stroke-width="2.8" stroke-linejoin="miter"/>
<polygon points="1124.6,1949.1 1137,1956.5 1137,1972.5 1124.6,1979.9 1112.2,1972.5 1112.2,1956.5" fill="#ff00ff" stroke="#000" stroke-width="2.8" stroke-linejoin="miter"/>
<polygon points="1227.9,1933.4 1240.3,1940.8 1240.3,1956.8 1227.9,1964.2 1215.5,1956.8 1215.5,1940.8" fill="#ff00ff" stroke="#000" stroke-width="2.8" stroke-linejoin="miter"/>
<polygon points="1331.2,1926.5 1343.6,1933.9 1343.6,1949.9 1331.2,1957.3 1318.8,1949.9 1318.8,1933.9" fill="#ff00ff" stroke="#000" stroke-width="2.8" stroke-linejoin="miter"/>
<polygon points="1434.5,1926.5 1446.9,1933.9 1446.9,1949.9 1434.5,1957.3 1422.1,1949.9 1422.1,1933.9" fill="#ff00ff" stroke="#000" stroke-width="2.8" stroke-linejoin="miter"/>
<path d="M298.2 1720.7L401.5 1784.8M401.5 1784.8L504.8 1848.4" fill="none" stroke="#00ffff" stroke-width="2.55" stroke-linecap="butt"/><path d="M504.8 1848.4L608.1 1914.3" fill="none" stroke="#00ffff" stroke-width="2.53" stroke-linecap="butt"/><path d="M608.1 1914.3L711.4 1936.4" fill="none" stroke="#00ffff" stroke-width="2.93" stroke-linecap="butt"/><path d="M711.4 1936.4L814.7 1971" fill="none" stroke="#00ffff" stroke-width="2.84" stroke-linecap="butt"/><path d="M814.7 1971L918 1985.7M1124.6 2006L1227.9 2021.2" fill="none" stroke="#00ffff" stroke-width="2.97" stroke-linecap="butt"/><path d="M918 1985.7L1021.3 2001.8" fill="none" stroke="#00ffff" stroke-width="2.96" stroke-linecap="butt"/><path d="M1021.3 2001.8L1124.6 2006" fill="none" stroke="#00ffff" stroke-width="3" stroke-linecap="butt"/><path d="M1227.9 2021.2L1331.2 2040.1" fill="none" stroke="#00ffff" stroke-width="2.95" stroke-linecap="butt"/><path d="M1331.2 2040.1L1434.5 2049.3" fill="none" stroke="#00ffff" stroke-width="2.99" stroke-linecap="butt"/>
<circle cx="298.2" cy="1720.7" r="12.8" fill="#00ffff" stroke="#000" stroke-width="2.8" stroke-linejoin="miter"/>
<circle cx="401.5" cy="1784.8" r="12.8" fill="#00ffff" stroke="#000" stroke-width="2.8" stroke-linejoin="miter"/>
<circle cx="504.8" cy="1848.4" r="12.8" fill="#00ffff" stroke="#000" stroke-width="2.8" stroke-linejoin="miter"/>
<circle cx="608.1" cy="1914.3" r="12.8" fill="#00ffff" stroke="#000" stroke-width="2.8" stroke-linejoin="miter"/>
<circle cx="711.4" cy="1936.4" r="12.8" fill="#00ffff" stroke="#000" stroke-width="2.8" stroke-linejoin="miter"/>
<circle cx="814.7" cy="1971" r="12.8" fill="#00ffff" stroke="#000" stroke-width="2.8" stroke-linejoin="miter"/>
<circle cx="918" cy="1985.7" r="12.8" fill="#00ffff" stroke="#000" stroke-width="2.8" stroke-linejoin="miter"/>
<circle cx="1021.3" cy="2001.8" r="12.8" fill="#00ffff" stroke="#000" stroke-width="2.8" stroke-linejoin="miter"/>
<circle cx="1124.6" cy="2006" r="12.8" fill="#00ffff" stroke="#000" stroke-width="2.8" stroke-linejoin="miter"/>
<circle cx="1227.9" cy="2021.2" r="12.8" fill="#00ffff" stroke="#000" stroke-width="2.8" stroke-linejoin="miter"/>
<circle cx="1331.2" cy="2040.1" r="12.8" fill="#00ffff" stroke="#000" stroke-width="2.8" stroke-linejoin="miter"/>
<circle cx="1434.5" cy="2049.3" r="12.8" fill="#00ffff" stroke="#000" stroke-width="2.8" stroke-linejoin="miter"/>
<line x1="1460.6" y1="1514.1" x2="1567.2" y2="1514.1" stroke="#000000" stroke-width="3"/>
<circle cx="1513.3" cy="1514.1" r="12.8" fill="#000000" stroke="#000" stroke-width="2.8" stroke-linejoin="miter"/>
<text class="b" transform="translate(1591 1524.8) scale(0.9930 1.0100)" font-family='"Liberation Sans", Arial, Helvetica, sans-serif' font-size="47.3" text-anchor="start">CO<tspan dx="1.5" dy="14" font-size="31">2</tspan></text>
<line x1="1460.6" y1="1582.4" x2="1567.2" y2="1582.4" stroke="#ff0000" stroke-width="3"/>
<polygon points="1500.1,1573.4 1526.5,1573.4 1513.3,1598" fill="#ff0000" stroke="#000" stroke-width="2.8" stroke-linejoin="miter"/>
<text class="b" transform="translate(1591 1599.2) scale(0.9930 1.0100)" font-family='"Liberation Sans", Arial, Helvetica, sans-serif' font-size="47.3" text-anchor="start">CO</text>
<line x1="1460.6" y1="1644.1" x2="1567.2" y2="1644.1" stroke="#00ff00" stroke-width="3"/>
<rect x="1501" y="1632" width="24.6" height="24.2" fill="#00ff00" stroke="#000" stroke-width="2.8" stroke-linejoin="miter"/>
<text class="b" transform="translate(1591 1660.1) scale(0.9930 0.9600)" font-family='"Liberation Sans", Arial, Helvetica, sans-serif' font-size="47.3" text-anchor="start">propene</text>
<line x1="1460.6" y1="1704.3" x2="1567.2" y2="1704.3" stroke="#ffff00" stroke-width="3"/>
<polygon points="1513.3,1688.3 1529.3,1704.3 1513.3,1720.3 1497.3,1704.3" fill="#ffff00" stroke="#000" stroke-width="2.8" stroke-linejoin="miter"/>
<text class="b" transform="translate(1591 1720.3) scale(0.9930 0.9600)" font-family='"Liberation Sans", Arial, Helvetica, sans-serif' font-size="47.3" text-anchor="start">acetic acid</text>
<line x1="1460.6" y1="1764.1" x2="1567.2" y2="1764.1" stroke="#0000ff" stroke-width="3"/>
<polygon points="1500.1,1773.1 1526.5,1773.1 1513.3,1748.5" fill="#0000ff" stroke="#000" stroke-width="2.8" stroke-linejoin="miter"/>
<text class="b" transform="translate(1591 1780.1) scale(0.9930 0.9600)" font-family='"Liberation Sans", Arial, Helvetica, sans-serif' font-size="47.3" text-anchor="start">propionic acid</text>
<line x1="1460.6" y1="1825.4" x2="1567.2" y2="1825.4" stroke="#ff00ff" stroke-width="3"/>
<polygon points="1513.3,1810 1525.7,1817.4 1525.7,1833.4 1513.3,1840.8 1500.9,1833.4 1500.9,1817.4" fill="#ff00ff" stroke="#000" stroke-width="2.8" stroke-linejoin="miter"/>
<text class="b" transform="translate(1591 1841.4) scale(0.9930 0.9600)" font-family='"Liberation Sans", Arial, Helvetica, sans-serif' font-size="47.3" text-anchor="start">acrylic acid</text>
<line x1="1460.6" y1="1885.6" x2="1567.2" y2="1885.6" stroke="#00ffff" stroke-width="3"/>
<circle cx="1513.3" cy="1885.6" r="12.8" fill="#00ffff" stroke="#000" stroke-width="2.8" stroke-linejoin="miter"/>
<text class="b" transform="translate(1591 1901.6) scale(0.9930 0.9850)" font-family='"Liberation Sans", Arial, Helvetica, sans-serif' font-size="47.3" text-anchor="start">CO-CO(acaetic acid)</text>
</g>
<text class="c" y="1204.9" font-family='"Liberation Serif", "Times New Roman", serif' font-size="68"><tspan x="523.87" textLength="25.76" lengthAdjust="spacingAndGlyphs" font-size="87">(</tspan><tspan x="550.35" textLength="40.76" lengthAdjust="spacingAndGlyphs" font-size="84.5" font-weight="bold">a</tspan><tspan x="592.1" textLength="25.25" lengthAdjust="spacingAndGlyphs" font-size="87">)</tspan> <tspan x="634.91" textLength="134.08" lengthAdjust="spacingAndGlyphs" font-size="68">after</tspan> <tspan x="785.75" textLength="32.58" lengthAdjust="spacingAndGlyphs" font-size="68">1</tspan> <tspan x="836.73" textLength="39.53" lengthAdjust="spacingAndGlyphs" font-size="68">h</tspan> <tspan x="893.57" textLength="57.49" lengthAdjust="spacingAndGlyphs" font-size="68">in</tspan> <tspan x="968.23" textLength="261.42" lengthAdjust="spacingAndGlyphs" font-size="68">reducing</tspan> <tspan x="1245.17" textLength="280.95" lengthAdjust="spacingAndGlyphs" font-size="68">condition</tspan></text>
<text class="c" y="2503.7" font-family='"Liberation Serif", "Times New Roman", serif' font-size="68"><tspan x="519.73" textLength="25.25" lengthAdjust="spacingAndGlyphs" font-size="87">(</tspan><tspan x="544.94" textLength="49.76" lengthAdjust="spacingAndGlyphs" font-size="84.5" font-weight="bold">b</tspan><tspan x="596.46" textLength="26.79" lengthAdjust="spacingAndGlyphs" font-size="87">)</tspan> <tspan x="639.48" textLength="135.31" lengthAdjust="spacingAndGlyphs" font-size="68">after</tspan> <tspan x="791.24" textLength="34.12" lengthAdjust="spacingAndGlyphs" font-size="68">3</tspan> <tspan x="842.03" textLength="39.32" lengthAdjust="spacingAndGlyphs" font-size="68">h</tspan> <tspan x="897.97" textLength="57.49" lengthAdjust="spacingAndGlyphs" font-size="68">in</tspan> <tspan x="972.63" textLength="261.42" lengthAdjust="spacingAndGlyphs" font-size="68">reducing</tspan> <tspan x="1249.05" textLength="282.16" lengthAdjust="spacingAndGlyphs" font-size="68">condition</tspan></text>
</svg>
</body>
</html>
